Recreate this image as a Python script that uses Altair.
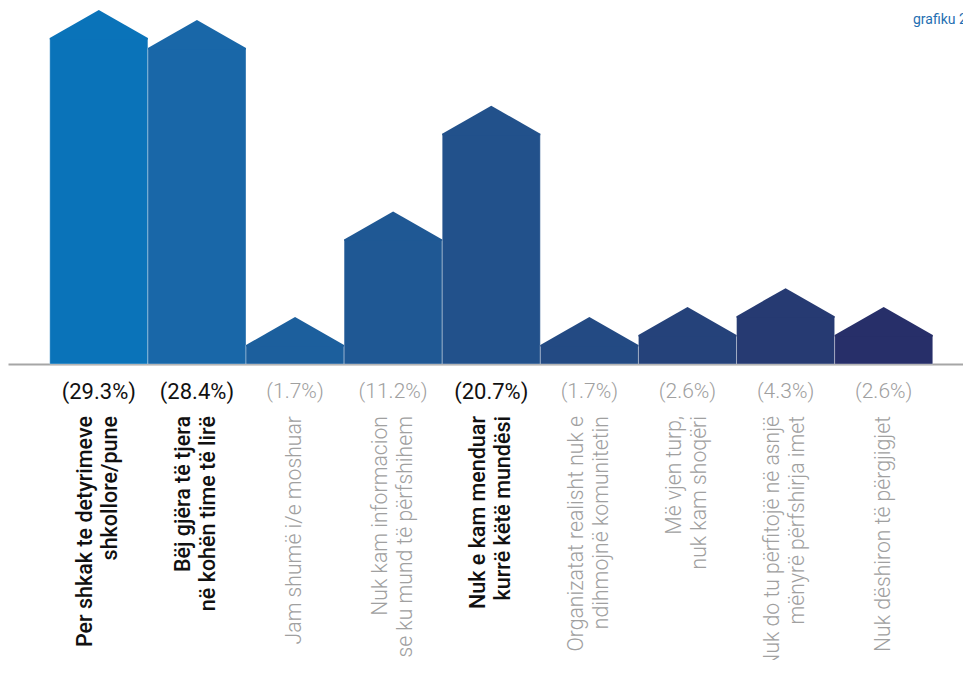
import altair as alt
import pandas as pd

categories = [
    "Per shkak te detyrimeve\nshkollore/pune",
    "Bëj gjëra të tjera\nnë kohën time të lirë",
    "Jam shumë i/e moshuar",
    "Nuk kam informacion\nse ku mund të përfshihem",
    "Nuk e kam menduar\nkurrë këtë mundësi",
    "Organizatat realisht nuk e\nndihmojnë komunitetin",
    "Më vjen turp,\nnuk kam shoqëri",
    "Nuk do tu përfitojë në asnjë\nmënyrë përfshirja imet",
    "Nuk dëshiron të përgjigjet",
]
values = [29.3, 28.4, 1.7, 11.2, 20.7, 1.7, 2.6, 4.3, 2.6]
highlighted = [categories[0], categories[1], categories[4]]
palette = ["#0a73b9", "#1967a8", "#1c5f9d", "#1f5894", "#22518b",
           "#234a83", "#25427a", "#263a72", "#272f69"]
chart_label = "grafiku 2"

df = pd.DataFrame({"cat": categories, "value": values})
df["hl"] = df["cat"].isin(highlighted)
df["ml"] = df["cat"].str.contains("\n")

W, H = 955, 356
xs = alt.X("cat:N", sort=categories,
           scale=alt.Scale(paddingInner=0, paddingOuter=0.367, align=0.58),
           axis=alt.Axis(labels=False, ticks=False, title=None,
                         domainColor="#a6a6a6", domainWidth=2))
ys = alt.Y("value:Q", scale=alt.Scale(domain=[0, 32]), axis=None)
col = alt.Color("cat:N", scale=alt.Scale(domain=categories, range=palette), legend=None)

base = alt.Chart(df)

bars = base.mark_bar(stroke="white", strokeWidth=1, strokeOpacity=0.35).encode(
    x=xs, y=ys, color=col)

roofs = base.mark_point(
    shape="M-1,0.03L-1,0L0,-0.571L1,0L1,0.03Z",
    filled=True, opacity=1, strokeWidth=0, size=9624
).encode(x=xs, y=ys, color=col)

pct = base.transform_calculate(
    lab="'(' + format(datum.value, '.1f') + '%)'"
)

pct_hl = pct.transform_filter("datum.hl").mark_text(
    font="Roboto", fontSize=22, fontWeight=400, color="#111111", baseline="middle"
).encode(x=xs, y=alt.value(384), text="lab:N")

pct_gr = pct.transform_filter("!datum.hl").mark_text(
    font="Roboto", fontSize=21, fontWeight=300, color="#a0a0a0", baseline="middle"
).encode(x=xs, y=alt.value(384), text="lab:N")


def cat_layer(filt, color, weight, size, dy):
    return base.transform_filter(filt).mark_text(
        font="Roboto", fontSize=size, fontWeight=weight, color=color,
        angle=270, align="right", baseline="middle", lineBreak="\n",
        lineHeight=25, dy=dy
    ).encode(x=xs, y=alt.value(408), text="cat:N")


cats = [
    cat_layer("datum.hl && datum.ml", "#111111", 500, 21.5, -12.5),
    cat_layer("datum.hl && !datum.ml", "#111111", 500, 21.5, 0),
    cat_layer("!datum.hl && datum.ml", "#a0a0a0", 300, 21.2, -12.5),
    cat_layer("!datum.hl && !datum.ml", "#a0a0a0", 300, 21.2, 0),
]

title = alt.Chart(pd.DataFrame({"t": [chart_label]})).mark_text(
    font="Roboto", fontSize=14, color="#1f6fb2", align="left", baseline="alphabetic"
).encode(x=alt.value(905), y=alt.value(16), text="t:N")

chart = alt.layer(bars, roofs, pct_hl, pct_gr, *cats, title).properties(
    width=W, height=H,
    autosize=alt.AutoSizeParams(type="none"),
    padding={"left": 0, "right": 0, "top": 0, "bottom": 296},
).configure_view(stroke=None)

chart.save("out.html", embed_options={"renderer": "svg", "actions": False})
